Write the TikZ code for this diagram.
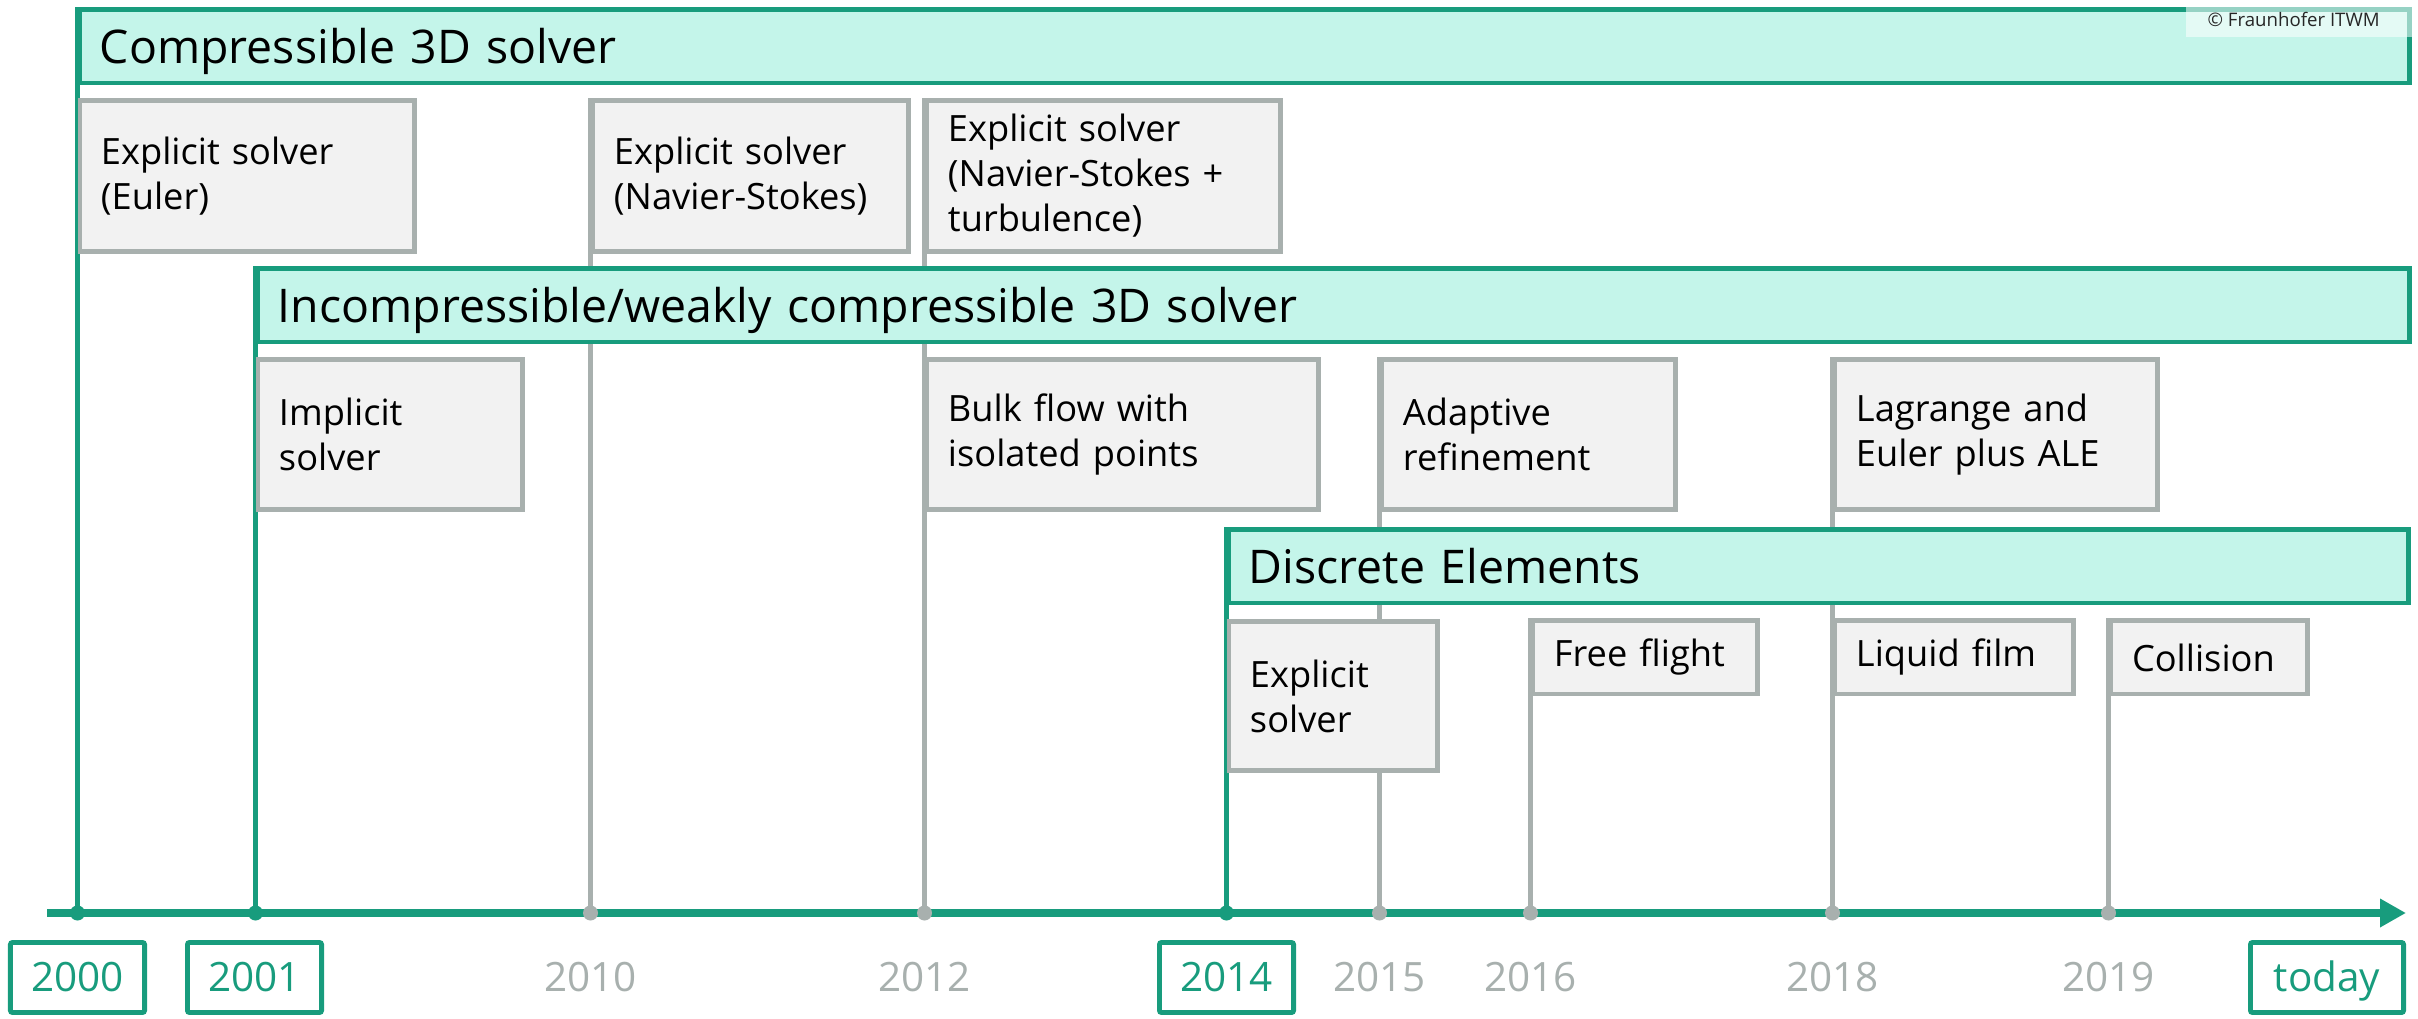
\documentclass[tikz,border=0pt]{standalone}
\usepackage{fontspec}
\setmainfont{Open Sans}
\usetikzlibrary{arrows.meta,backgrounds}

\definecolor{itwmgreen}{RGB}{24,156,125}
\definecolor{barfill}{RGB}{196,245,234}
\definecolor{boxgray}{RGB}{168,176,174}
\definecolor{boxfill}{RGB}{242,242,242}

\tikzset{
	bar/.style={draw=itwmgreen, fill=barfill, line width=1.4pt, anchor=north west,
		inner xsep=0.2cm, align=left, minimum height=0.73cm,
		font=\fontsize{13.2}{16}\selectfont, text height=9.4pt, text depth=0pt},
	item/.style={draw=boxgray, fill=boxfill, line width=1.4pt, anchor=north west,
		inner xsep=0.21cm, align=left, font=\fontsize{10.3}{12.8}\selectfont},
	gline/.style={itwmgreen, line width=1.4pt},
	pline/.style={boxgray, line width=1.3pt},
	gdot/.style={circle, fill=itwmgreen, minimum size=0.15cm, inner sep=0pt},
	pdot/.style={circle, fill=boxgray, minimum size=0.15cm, inner sep=0pt},
	yearbox/.style={draw=itwmgreen, line width=1.4pt, rounded corners=0.6pt,
		minimum width=1.34cm, minimum height=0.70cm, text=itwmgreen,
		font=\fontsize{11.5}{14}\selectfont, text height=8.2pt, text depth=0pt},
	yeartext/.style={text=boxgray, font=\fontsize{11.5}{14}\selectfont,
		text height=8.2pt, text depth=0pt}
}

\begin{document}
\begin{tikzpicture}[x=0.01cm, y=-0.01cm]
	\useasboundingbox (0,0) rectangle (2418,1019);

	% the three solver families
	\node[bar, text width=22.88cm] (comp) at (77.5,7.5) {Compressible 3D solver};
	\node[bar, text width=21.10cm] (incomp) at (255.5,266.5) {Incompressible/weakly compressible 3D solver};
	\node[bar, text width=11.39cm] (dem) at (1226.5,527.5) {Discrete Elements};

	% milestones
	\node[item, text width=2.92cm, minimum height=1.50cm] (euler) at (77.5,98.5) {Explicit solver\\(Euler)};
	\node[item, text width=2.73cm, minimum height=1.50cm] (navier) at (590.5,98.5) {Explicit solver\\(Navier-Stokes)};
	\node[item, text width=3.11cm, minimum height=1.50cm] (turb) at (924.5,98.5) {Explicit solver\\(Navier-Stokes +\\turbulence)};
	\node[item, text width=2.22cm, minimum height=1.49cm] (implicit) at (255.5,357.5) {Implicit\\solver};
	\node[item, text width=3.49cm, minimum height=1.49cm] (bulk) at (924.5,357.5) {Bulk flow with\\isolated points};
	\node[item, text width=2.51cm, minimum height=1.49cm] (adaptive) at (1379.5,357.5) {Adaptive\\refinement};
	\node[item, text width=2.80cm, minimum height=1.49cm] (lagrange) at (1832.5,357.5) {Lagrange and\\Euler plus ALE};
	\node[item, text width=1.66cm, minimum height=1.48cm] (demexpl) at (1226.5,619.5) {Explicit\\solver};
	\node[item, text width=1.82cm, minimum height=0.73cm] (flight) at (1530.5,618.5) {Free flight};
	\node[item, text width=1.96cm, minimum height=0.73cm] (film) at (1832.5,618.5) {Liquid film};
	\node[item, text width=1.54cm, minimum height=0.73cm] (collision) at (2108.5,618.5) {Collision};

	% copyright tag
	\fill[white, opacity=0.55] (2186,3) rectangle (2412,37);
	\node[anchor=east, text=black!85, font=\fontsize{5.3}{6.5}\selectfont, text height=3.8pt, text depth=0pt] (copy) at (2392,20) {\textcopyright{} Fraunhofer ITWM};

	% time axis
	\coordinate (tstart) at (47,913);
	\coordinate (tend) at (2406,913);
	\draw[itwmgreen, line width=2pt, -{Triangle[length=0.26cm, width=0.27cm]}] (tstart) -- (tend);

	\node[gdot] (d2000) at (77.5,913) {};
	\node[gdot] (d2001) at (255.5,913) {};
	\node[pdot] (d2010) at (590.5,913) {};
	\node[pdot] (d2012) at (924.5,913) {};
	\node[gdot] (d2014) at (1226.5,913) {};
	\node[pdot] (d2015) at (1379.5,913) {};
	\node[pdot] (d2016) at (1530.5,913) {};
	\node[pdot] (d2018) at (1832.5,913) {};
	\node[pdot] (d2019) at (2108.5,913) {};

	\node[yearbox] (y2000) at (77.5,977.5) {2000};
	\node[yearbox] (y2001) at (254.5,977.5) {2001};
	\node[yeartext] (y2010) at (590.5,977.5) {2010};
	\node[yeartext] (y2012) at (924.5,977.5) {2012};
	\node[yearbox] (y2014) at (1226.5,977.5) {2014};
	\node[yeartext] (y2015) at (1379.5,977.5) {2015};
	\node[yeartext] (y2016) at (1530.5,977.5) {2016};
	\node[yeartext] (y2018) at (1832.5,977.5) {2018};
	\node[yeartext] (y2019) at (2108.5,977.5) {2019};
	\node[yearbox, minimum width=1.53cm] (today) at (2327,977.5) {today};

	% stems from the axis up to each box
	\begin{scope}[on background layer]
		\draw[gline] (d2000.center) -- (comp.north west);
		\draw[gline] (d2001.center) -- (incomp.north west);
		\draw[gline] (d2014.center) -- (dem.north west);
		\draw[pline] (d2010.center) -- (navier.north west);
		\draw[pline] (d2012.center) -- (turb.north west);
		\draw[pline] (d2015.center) -- (adaptive.north west);
		\draw[pline] (d2016.center) -- (flight.north west);
		\draw[pline] (d2018.center) -- (lagrange.north west);
		\draw[pline] (d2019.center) -- (collision.north west);
	\end{scope}
\end{tikzpicture}
\end{document}
